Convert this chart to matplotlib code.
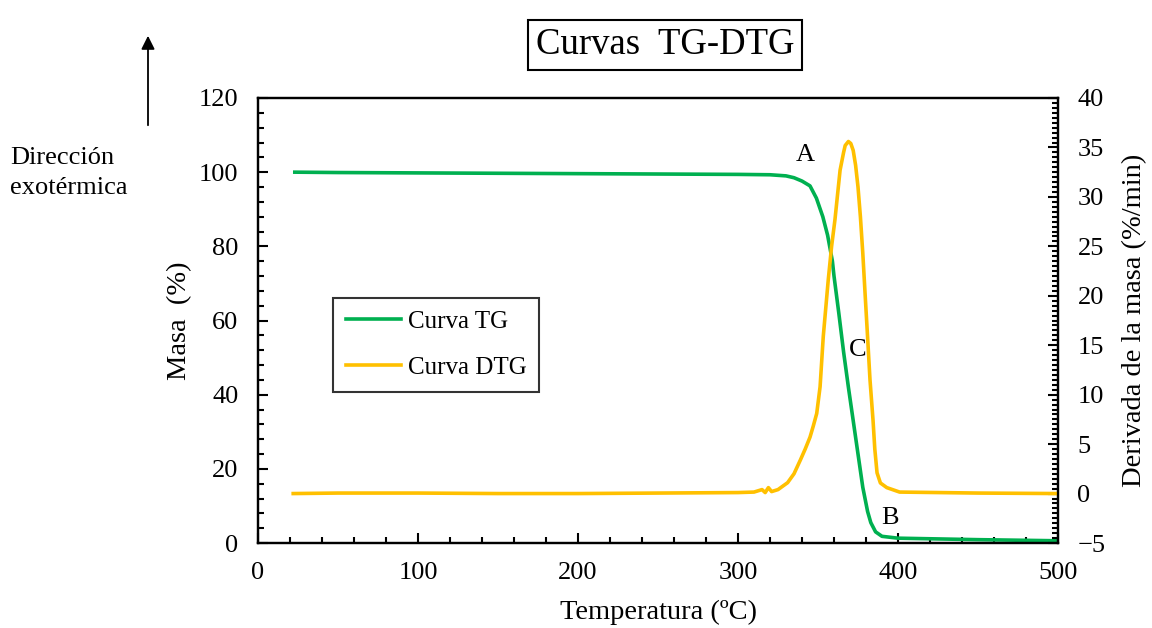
import matplotlib
matplotlib.use("Agg")
import matplotlib.pyplot as plt
from matplotlib.ticker import MultipleLocator

plt.rcParams['font.family'] = ['Liberation Serif', 'DejaVu Serif']

# TG curve (mass %)
tg_temp = [23, 50, 100, 150, 200, 250, 300, 320, 330, 335, 340, 345, 349, 353,
           356, 359, 360, 363, 366, 369, 372, 375, 378, 381, 383, 386, 390,
           400, 450, 500]
tg_mass = [100, 99.9, 99.8, 99.7, 99.6, 99.5, 99.4, 99.3, 99.0, 98.5, 97.6,
           96.3, 93.0, 88.0, 83.0, 76.0, 72.0, 62.0, 51.5, 42.0, 33.0, 24.0,
           15.0, 8.5, 5.5, 3.0, 1.8, 1.3, 0.9, 0.6]

# DTG curve (%/min)
dtg_temp = [22, 50, 100, 150, 200, 250, 300, 310, 315, 317, 319, 321, 325, 331,
            335, 339, 342, 345, 347, 349.2, 351.3, 353.3, 356.4, 358.5, 360.6,
            363.8, 366, 367, 369, 370.5, 372, 373.5, 375, 376.5, 378, 379.5,
            381, 382.5, 384.4, 385.5, 386.9, 389, 393, 401, 450, 500]
dtg_rate = [0.0, 0.05, 0.05, 0.0, 0.0, 0.05, 0.1, 0.15, 0.4, 0.1, 0.6, 0.2,
            0.4, 1.1, 2.0, 3.4, 4.5, 5.7, 6.8, 8.1, 10.8, 15.9, 21.6, 25.0,
            27.7, 32.7, 34.5, 35.2, 35.6, 35.4, 34.7, 33.2, 31.0, 28.0, 24.3,
            20.0, 15.8, 11.5, 7.4, 4.5, 2.1, 1.07, 0.6, 0.15, 0.05, 0.0]

green = '#00B050'
yellow = '#FFC000'
fs = 19
lfs = 20.5

fig = plt.figure(figsize=(11.52, 6.28), dpi=100)
ax = fig.add_axes([258/1152, 1 - 543/628, 800/1152, 445/628])
ax2 = ax.twinx()

l1, = ax.plot(tg_temp, tg_mass, color=green, lw=2.6, label='Curva TG')
l2, = ax2.plot(dtg_temp, dtg_rate, color=yellow, lw=2.6, label='Curva DTG')

ax.set_xlim(0, 500)
ax.set_ylim(0, 120)
ax2.set_ylim(-5, 40)

ax.xaxis.set_major_locator(MultipleLocator(100))
ax.xaxis.set_minor_locator(MultipleLocator(20))
ax.yaxis.set_major_locator(MultipleLocator(20))
ax.yaxis.set_minor_locator(MultipleLocator(4))
ax2.yaxis.set_major_locator(MultipleLocator(5))
ax2.yaxis.set_minor_locator(MultipleLocator(0.5))

for a in (ax, ax2):
    for s in a.spines.values():
        s.set_linewidth(1.6)
    a.tick_params(which='both', direction='in', width=1.5, labelsize=fs)
    a.tick_params(which='major', length=7, pad=14)
    a.tick_params(which='minor', length=4)
ax.tick_params(axis='x', which='major', pad=14)

ax.set_xlabel('Temperatura (ºC)', fontsize=lfs, labelpad=11)
ax.set_ylabel('Masa  (%)', fontsize=lfs, labelpad=5)
ax2.set_ylabel('Derivada de la masa (%/min)', fontsize=lfs, labelpad=12)

leg = ax.legend(handles=[l1, l2], loc='upper left',
                bbox_to_anchor=(0.094, 0.551), fontsize=18, frameon=True,
                fancybox=False, edgecolor='black', handlelength=2.2,
                handletextpad=0.28, borderpad=0.5, labelspacing=0.95,
                borderaxespad=0)
leg.get_frame().set_linewidth(1.5)

ax.text(342, 104.6, 'A', fontsize=fs, ha='center', va='center')
ax.text(375, 52, 'C', fontsize=fs, ha='center', va='center')
ax.text(395, 6.7, 'B', fontsize=fs, ha='center', va='center')

fig.text(665/1152, 1 - 45/628, 'Curvas  TG-DTG', fontsize=26.5, ha='center',
         va='center', bbox=dict(boxstyle='square,pad=0.22', fc='white',
                                ec='black', lw=1.5))

fig.text(10/1152, 1 - 173/628, 'Dirección\nexotérmica', fontsize=fs,
         ha='left', va='center', linespacing=1.5)
fig.patches.append(matplotlib.patches.FancyArrowPatch(
    (148/1152, 1 - 128/628), (148/1152, 1 - 33/628),
    transform=fig.transFigure, arrowstyle='-|>', mutation_scale=20,
    color='black', lw=1.3))

fig.savefig('out.png', dpi=100, facecolor='white')
